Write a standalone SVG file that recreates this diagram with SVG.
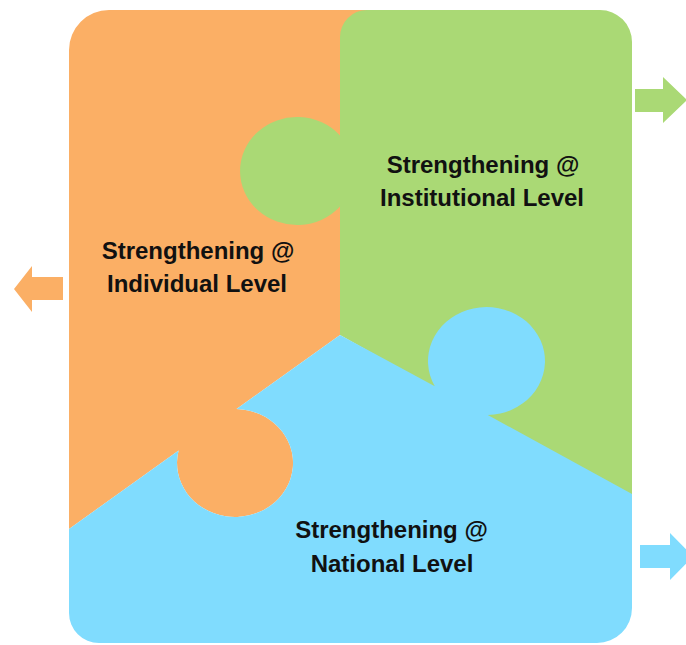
<svg xmlns="http://www.w3.org/2000/svg" width="686" height="645" viewBox="0 0 686 645">
  <style>
    .lbl { font-family: "Liberation Sans", Arial, sans-serif; font-weight: bold; font-size: 24px; fill: #111111; text-anchor: middle; }
    .orange { fill: #FBAF65; }
    .green { fill: #AAD975; }
    .blue { fill: #80DCFE; }
  </style>
  <rect width="686" height="645" fill="#ffffff"/>
  <g id="individual">
    <path class="orange" d="M 109,10 H 367 V 45 H 340 V 335 L 236.5,409 A 58,54 0 1 1 178.6,450.5 L 69,529 V 50 A 40,40 0 0 1 109,10 Z"/>
    <text class="lbl" x="198" y="259">Strengthening @</text>
    <text class="lbl" x="197" y="291.5">Individual Level</text>
  </g>
  <g id="institutional">
    <path class="green" d="M 340,37 A 27,27 0 0 1 367,10 H 600 A 32,32 0 0 1 632,42 V 500 L 340,335 V 206.5 A 57,54 0 1 1 340,135.5 Z"/>
    <text class="lbl" x="483" y="173">Strengthening @</text>
    <text class="lbl" x="482" y="206">Institutional Level</text>
  </g>
  <g id="national">
    <path class="blue" d="M 340,335 L 434.8,386.3 A 58.5,54 0 1 1 487.8,415 L 632,494 V 608 A 35,35 0 0 1 597,643 H 99 A 30,30 0 0 1 69,613 V 529 L 178.6,450.5 A 58,54 0 1 0 236.5,409 Z"/>
    <text class="lbl" x="391.5" y="538">Strengthening @</text>
    <text class="lbl" x="392" y="571.5">National Level</text>
  </g>
  <g id="connectors">
    <polygon class="orange" points="63,277 32,277 32,266 14,289 32,312 32,300 63,300"/>
    <polygon class="green" points="635,89 663,89 663,77 687,100 663,123 663,112 635,112"/>
    <polygon class="blue" points="640,545 670,545 670,533 693,556.5 670,580 670,568 640,568"/>
  </g>
</svg>
